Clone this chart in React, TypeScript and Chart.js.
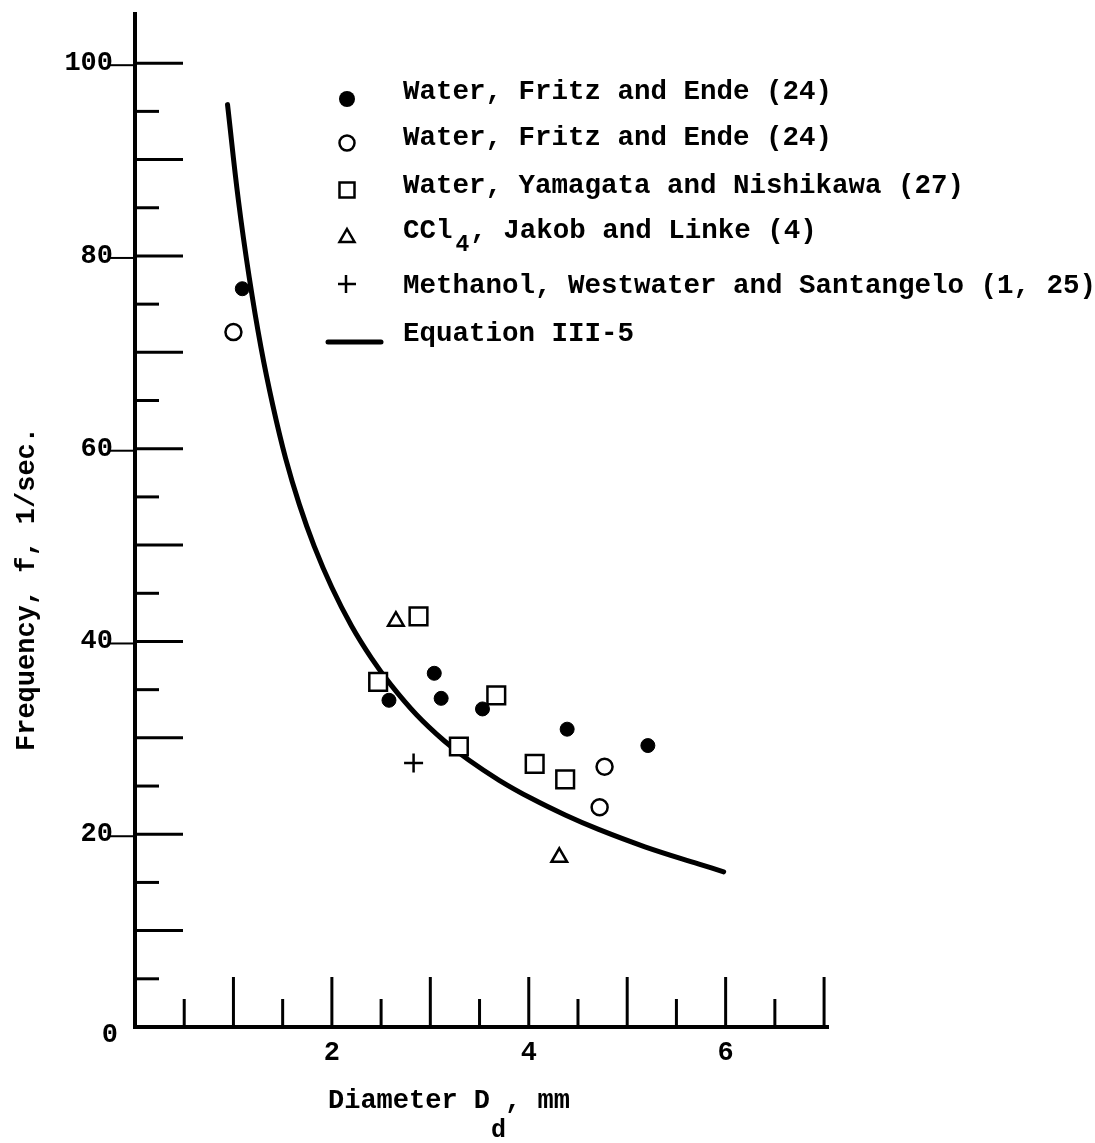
import React, { useEffect, useRef } from 'react';
import { Chart, registerables } from 'chart.js';

Chart.register(...registerables);

const FONT = '"Liberation Mono", "DejaVu Sans Mono", monospace';

// ---- data ----
const fritzFilledX = [1.09, 2.58, 3.04, 3.11, 3.53, 4.39, 5.21];
const fritzFilledY = [76.6, 33.9, 36.7, 34.1, 33.0, 30.9, 29.2];

const fritzOpenX = [1.0, 4.77, 4.72];
const fritzOpenY = [72.1, 27.0, 22.8];

const yamagataX = [2.47, 2.88, 3.67, 3.29, 4.06, 4.37];
const yamagataY = [35.8, 42.6, 34.4, 29.1, 27.3, 25.7];

const jakobX = [2.65, 4.31];
const jakobY = [42.1, 17.6];

const methanolX = [2.83];
const methanolY = [27.4];

const equationX = [0.94, 1.05, 1.16, 1.28, 1.4, 1.53, 1.67, 1.82, 2.0, 2.2, 2.4, 2.6, 2.86, 3.14, 3.39, 3.7, 4.03, 4.37, 4.71, 5.18, 5.73, 5.98];
const equationY = [95.7, 85.8, 77.8, 70.5, 64.5, 59.0, 54.2, 49.9, 45.6, 41.6, 38.3, 35.5, 32.4, 29.7, 27.7, 25.6, 23.7, 22.0, 20.5, 18.7, 16.9, 16.1];

const legendLabels = [
  'Water, Fritz and Ende (24)',
  'Water, Fritz and Ende (24)',
  'Water, Yamagata and Nishikawa (27)',
  'CCl|4|, Jakob and Linke (4)',
  'Methanol, Westwater and Santangelo (1, 25)',
  'Equation III-5',
];

const yTickValues = [5, 10, 15, 20, 25, 30, 35, 40, 45, 50, 55, 60, 65, 70, 75, 80, 85, 90, 95, 100];
const yTickLabels = [0, 20, 40, 60, 80, 100];
const xTickValues = [0.5, 1, 1.5, 2, 2.5, 3, 3.5, 4, 4.5, 5, 5.5, 6, 6.5, 7];
const xTickLabels = [2, 4, 6];

const xTitle = ['Diameter D', 'd', ', mm'];
const yTitle = 'Frequency, f, 1/sec.';

const X_MIN = 0;
const X_MAX = 7.05;
const Y_MIN = 0;
const Y_MAX = 105;

const zip = (xs: number[], ys: number[]) => xs.map((x, i) => ({ x, y: ys[i] }));

const paperPlugin = {
  id: 'paperAxes',
  beforeDatasetsDraw(chart: any) {
    const { ctx } = chart;
    const xs = chart.scales.x;
    const ys = chart.scales.y;
    const x0 = xs.getPixelForValue(0);
    const y0 = ys.getPixelForValue(0);
    ctx.save();
    ctx.strokeStyle = '#000';
    ctx.lineCap = 'butt';
    ctx.lineWidth = 4;
    ctx.beginPath();
    ctx.moveTo(x0, ys.getPixelForValue(Y_MAX) - 3);
    ctx.lineTo(x0, y0);
    ctx.lineTo(xs.getPixelForValue(X_MAX), y0);
    ctx.stroke();

    ctx.lineWidth = 3;
    yTickValues.forEach((v) => {
      const py = ys.getPixelForValue(v);
      const len = v % 10 === 0 ? 48 : 24;
      ctx.beginPath();
      ctx.moveTo(x0, py);
      ctx.lineTo(x0 + len, py);
      ctx.stroke();
    });
    xTickValues.forEach((v) => {
      const px = xs.getPixelForValue(v);
      const len = Number.isInteger(v) ? 50 : 28;
      ctx.beginPath();
      ctx.moveTo(px, y0);
      ctx.lineTo(px, y0 - len);
      ctx.stroke();
    });

    // tick labels
    ctx.fillStyle = '#000';
    ctx.font = `bold 27px ${FONT}`;
    ctx.textBaseline = 'alphabetic';
    ctx.textAlign = 'right';
    ctx.lineWidth = 2;
    yTickLabels.forEach((v) => {
      const py = ys.getPixelForValue(v);
      if (v === 0) {
        ctx.fillText(String(v), x0 - 17, py + 15);
      } else {
        ctx.fillText(String(v), x0 - 22, py + 7);
        ctx.beginPath();
        ctx.moveTo(x0 - 25, py + 2);
        ctx.lineTo(x0, py + 2);
        ctx.stroke();
      }
    });
    ctx.textAlign = 'center';
    xTickLabels.forEach((v) => {
      const px = xs.getPixelForValue(v);
      ctx.fillText(String(v), px, y0 + 33);
    });

    // x title with subscript
    ctx.textAlign = 'left';
    let tx = 328;
    ctx.font = `bold 27px ${FONT}`;
    ctx.fillText(xTitle[0], tx, 1108);
    tx += ctx.measureText(xTitle[0]).width;
    ctx.font = `bold 25px ${FONT}`;
    ctx.fillText(xTitle[1], tx + 1, 1137);
    tx += ctx.measureText(xTitle[1]).width;
    ctx.font = `bold 27px ${FONT}`;
    ctx.fillText(xTitle[2], tx, 1108);

    // y title
    ctx.save();
    ctx.translate(27, 589);
    ctx.rotate(-Math.PI / 2);
    ctx.textAlign = 'center';
    ctx.textBaseline = 'middle';
    ctx.font = `bold 27px ${FONT}`;
    ctx.fillText(yTitle, 0, 0);
    ctx.restore();

    // legend
    const lx = 403;
    const baselines = [99, 145, 193, 238, 293, 341];
    ctx.textAlign = 'left';
    legendLabels.forEach((lab, i) => {
      const parts = lab.split('|');
      let cx = lx;
      parts.forEach((p, j) => {
        if (j % 2 === 1) {
          ctx.font = `bold 23px ${FONT}`;
          ctx.fillText(p, cx + 3, baselines[i] + 13);
          cx += ctx.measureText(p).width + 4;
        } else {
          ctx.font = `bold 27.5px ${FONT}`;
          ctx.fillText(p, cx, baselines[i]);
          cx += ctx.measureText(p).width;
        }
      });
    });
    // legend markers
    const mx = 347;
    ctx.fillStyle = '#000';
    ctx.beginPath();
    ctx.arc(mx, 99, 8, 0, Math.PI * 2);
    ctx.fill();
    ctx.lineWidth = 2.5;
    ctx.beginPath();
    ctx.arc(mx, 143, 7.5, 0, Math.PI * 2);
    ctx.stroke();
    ctx.strokeRect(mx - 7.5, 182.5, 15, 15);
    ctx.beginPath();
    ctx.moveTo(mx, 229);
    ctx.lineTo(mx + 7.5, 242);
    ctx.lineTo(mx - 7.5, 242);
    ctx.closePath();
    ctx.stroke();
    ctx.beginPath();
    ctx.moveTo(mx - 9, 284);
    ctx.lineTo(mx + 9, 284);
    ctx.moveTo(mx - 1, 275);
    ctx.lineTo(mx - 1, 293);
    ctx.stroke();
    ctx.lineWidth = 5;
    ctx.lineCap = 'round';
    ctx.beginPath();
    ctx.moveTo(328, 342);
    ctx.lineTo(381, 342);
    ctx.stroke();
    ctx.restore();
  },
};

export default function App() {
  const canvasRef = useRef<HTMLCanvasElement | null>(null);

  useEffect(() => {
    if (!canvasRef.current) return;
    const black = '#000';
    const chart = new Chart(canvasRef.current, {
      type: 'scatter',
      data: {
        datasets: [
          {
            label: legendLabels[0],
            data: zip(fritzFilledX, fritzFilledY),
            pointStyle: 'circle',
            pointRadius: 7,
            backgroundColor: black,
            borderColor: black,
            borderWidth: 1,
            order: 1,
          },
          {
            label: legendLabels[1],
            data: zip(fritzOpenX, fritzOpenY),
            pointStyle: 'circle',
            pointRadius: 8,
            backgroundColor: '#fff',
            borderColor: black,
            borderWidth: 2.5,
            order: 1,
          },
          {
            label: legendLabels[2],
            data: zip(yamagataX, yamagataY),
            pointStyle: 'rect',
            pointRadius: 12.5,
            backgroundColor: '#fff',
            borderColor: black,
            borderWidth: 2.5,
            order: 1,
          },
          {
            label: legendLabels[3],
            data: zip(jakobX, jakobY),
            pointStyle: 'triangle',
            pointRadius: 9,
            backgroundColor: '#fff',
            borderColor: black,
            borderWidth: 2.5,
            order: 1,
          },
          {
            label: legendLabels[4],
            data: zip(methanolX, methanolY),
            pointStyle: 'cross',
            pointRadius: 9.5,
            backgroundColor: black,
            borderColor: black,
            borderWidth: 2.5,
            order: 1,
          },
          {
            label: legendLabels[5],
            data: zip(equationX, equationY),
            showLine: true,
            pointRadius: 0,
            borderColor: black,
            borderWidth: 5,
            tension: 0.4,
            borderCapStyle: 'round',
            order: 10,
          } as any,
        ],
      },
      options: {
        animation: false,
        responsive: false,
        devicePixelRatio: 1,
        layout: { padding: { left: 135, right: 266, top: 10, bottom: 116 } },
        plugins: { legend: { display: false }, tooltip: { enabled: false } },
        events: [],
        scales: {
          x: { type: 'linear', min: X_MIN, max: X_MAX, display: false },
          y: { type: 'linear', min: Y_MIN, max: Y_MAX, display: false },
        },
      },
      plugins: [paperPlugin],
    } as any);
    return () => chart.destroy();
  }, []);

  return (
    <div style={{ position: 'fixed', left: 0, top: 0, width: 1095, height: 1143, background: '#fff' }}>
      <canvas ref={canvasRef} width={1095} height={1143} style={{ width: 1095, height: 1143, display: 'block' }} />
    </div>
  );
}
